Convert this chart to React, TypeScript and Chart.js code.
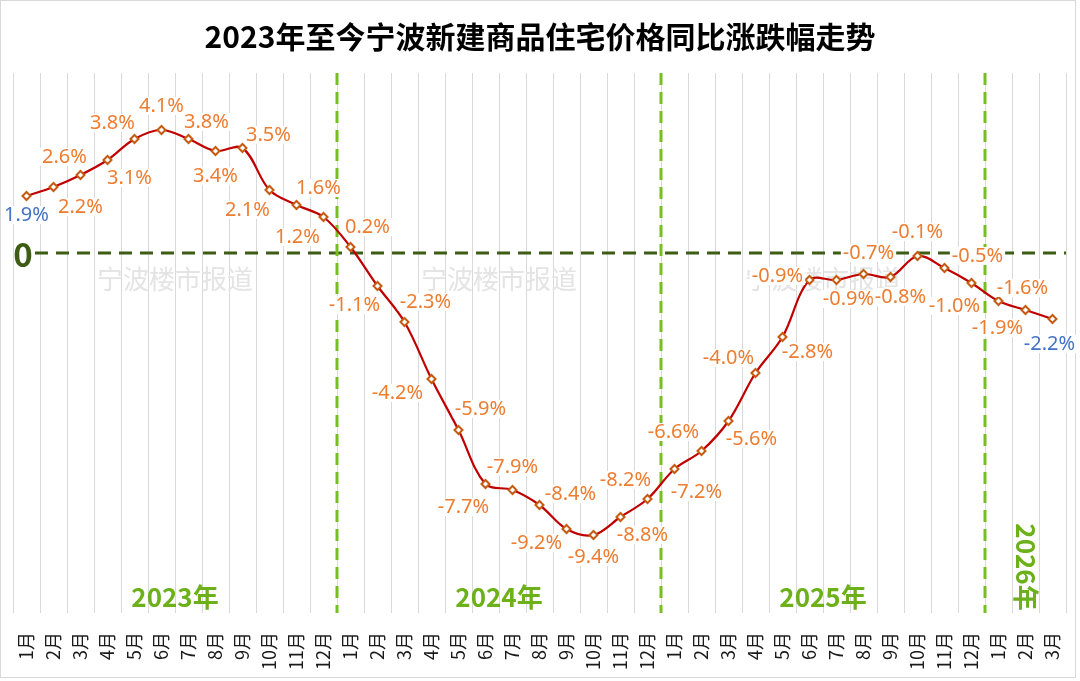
import { useEffect, useRef } from 'react';
import { Chart, registerables } from 'chart.js';

Chart.register(...registerables);

// ---------- data ----------
const MONTHS = ['1月', '2月', '3月', '4月', '5月', '6月', '7月', '8月', '9月', '10月', '11月', '12月'];
const CATEGORIES = [...MONTHS, ...MONTHS, ...MONTHS, ...MONTHS.slice(0, 3)];
const VALUES_2023 = [1.9, 2.2, 2.6, 3.1, 3.8, 4.1, 3.8, 3.4, 3.5, 2.1, 1.6, 1.2];
const VALUES_2024 = [0.2, -1.1, -2.3, -4.2, -5.9, -7.7, -7.9, -8.4, -9.2, -9.4, -8.8, -8.2];
const VALUES_2025 = [-7.2, -6.6, -5.6, -4.0, -2.8, -0.9, -0.9, -0.7, -0.8, -0.1, -0.5, -1.0];
const VALUES_2026 = [-1.6, -1.9, -2.2];
const VALUES = [...VALUES_2023, ...VALUES_2024, ...VALUES_2025, ...VALUES_2026];
const YEAR_LABELS = ['2023年', '2024年', '2025年', '2026年'];
const YEAR_STARTS = [0, 12, 24, 36];
const TITLE = '2023年至今宁波新建商品住宅价格同比涨跌幅走势';
const WATERMARK = '宁波楼市报道';
const Y_MIN = -12;
const Y_MAX = 6;

// ---------- label placement (style, pixel offsets from each point) ----------
const LABEL_OFFSETS: [number, number][] = [
  [0, 19], [27, 20], [-16, -18], [22, 18], [-22, -16], [0, -24], [18, -17], [0, 25], [26, -13], [-22, 20], [22, -17], [-26, 20],
  [17, -20], [-23, 19], [21, -20], [-34, 14], [22, -21], [-22, 23], [0, -23], [31, -11], [-30, 14], [0, 22], [22, 18], [-22, -19],
  [22, 23], [-28, -19], [23, 18], [-27, -15], [25, 15], [-32, -4], [12, 19], [5, -21], [10, 20], [0, -24], [33, -12], [-17, 23],
  [24, -13], [-28, 18], [-3, 25],
];

const CJK = '"Noto Sans CJK SC", "Noto Sans", sans-serif';

const decorPlugin = {
  id: 'decor',
  beforeDraw(chart: any) {
    const { ctx, width } = chart;
    ctx.save();
    ctx.fillStyle = '#ffffff';
    ctx.fillRect(0, 0, chart.width, chart.height);
    ctx.strokeStyle = '#d9d9d9';
    ctx.lineWidth = 1;
    ctx.strokeRect(0.5, 0.5, 1075, 677);
    ctx.fillStyle = '#000000';
    ctx.font = `bold 30px ${CJK}`;
    ctx.textAlign = 'center';
    ctx.textBaseline = 'middle';
    ctx.fillText(TITLE, width / 2, 37);
    ctx.restore();
  },
  beforeDatasetsDraw(chart: any) {
    const { ctx, chartArea } = chart;
    const x = chart.scales.x;
    const y = chart.scales.y;
    const cat = (chartArea.right - chartArea.left) / CATEGORIES.length;
    ctx.save();
    // watermarks
    ctx.fillStyle = '#e4e4e4';
    ctx.font = `26px ${CJK}`;
    ctx.textAlign = 'center';
    ctx.textBaseline = 'middle';
    for (let k = 0; k < 3; k++) {
      const cx = (x.getPixelForValue(YEAR_STARTS[k] + 5) + x.getPixelForValue(YEAR_STARTS[k] + 6)) / 2;
      ctx.fillText(WATERMARK, cx, y.getPixelForValue(0) + 26);
    }
    // zero line
    const y0 = y.getPixelForValue(0);
    ctx.strokeStyle = '#3d5c14';
    ctx.lineWidth = 3;
    ctx.setLineDash([13, 8]);
    ctx.beginPath();
    ctx.moveTo(chartArea.left + 22, y0);
    ctx.lineTo(chartArea.right, y0);
    ctx.stroke();
    // year separators
    ctx.strokeStyle = '#78be20';
    ctx.setLineDash([12, 7]);
    for (let k = 1; k < YEAR_STARTS.length; k++) {
      const bx = chartArea.left + YEAR_STARTS[k] * cat;
      ctx.beginPath();
      ctx.moveTo(bx, chartArea.top);
      ctx.lineTo(bx, chartArea.bottom);
      ctx.stroke();
    }
    ctx.setLineDash([]);
    // "0" label
    ctx.fillStyle = '#3d5c14';
    ctx.font = `bold 33px ${CJK}`;
    ctx.fillText('0', chartArea.left + 10, y0 + 1);
    // year labels
    ctx.fillStyle = '#6cb01a';
    ctx.font = `bold 26px ${CJK}`;
    for (let k = 0; k < 3; k++) {
      const cx = (x.getPixelForValue(YEAR_STARTS[k] + 5) + x.getPixelForValue(YEAR_STARTS[k] + 6)) / 2;
      ctx.fillText(YEAR_LABELS[k], cx, chartArea.bottom - 16);
    }
    ctx.save();
    ctx.translate(x.getPixelForValue(YEAR_STARTS[3] + 1), chartArea.bottom - 46);
    ctx.rotate(Math.PI / 2);
    ctx.fillText(YEAR_LABELS[3], 0, 0);
    ctx.restore();
    ctx.restore();
  },
  afterDatasetsDraw(chart: any) {
    const { ctx } = chart;
    const meta = chart.getDatasetMeta(0);
    ctx.save();
    ctx.font = `20px "Noto Sans", ${CJK}`;
    ctx.textAlign = 'center';
    ctx.textBaseline = 'middle';
    meta.data.forEach((pt: any, i: number) => {
      const [dx, dy] = LABEL_OFFSETS[i];
      const text = `${VALUES[i].toFixed(1)}%`;
      const lx = pt.x + dx;
      const ly = pt.y + dy;
      const w = ctx.measureText(text).width;
      ctx.fillStyle = '#ffffff';
      ctx.fillRect(lx - w / 2 - 2, ly - 9, w + 4, 18);
      ctx.fillStyle = i === 0 || i === VALUES.length - 1 ? '#4472c4' : '#ed7d31';
      ctx.fillText(text, lx, ly);
    });
    ctx.restore();
  },
};

export default function App() {
  const ref = useRef<HTMLCanvasElement>(null);
  useEffect(() => {
    const chart = new Chart(ref.current!, {
      type: 'line',
      data: {
        labels: CATEGORIES,
        datasets: [
          {
            data: VALUES,
            borderColor: '#c00000',
            borderWidth: 2.2,
            tension: 0.35,
            pointStyle: 'rectRot',
            pointRadius: 4,
            pointBorderWidth: 2,
            pointBorderColor: '#c55a11',
            pointBackgroundColor: '#ffffff',
            clip: false as any,
          },
        ],
      },
      options: {
        animation: false,
        responsive: false,
        devicePixelRatio: 1,
        layout: { padding: { left: 13, right: 14, top: 73, bottom: 0 } },
        plugins: { legend: { display: false }, tooltip: { enabled: false }, title: { display: false } },
        scales: {
          x: {
            offset: true,
            grid: { offset: true, color: '#d9d9d9', lineWidth: 1, drawTicks: false },
            border: { display: false },
            ticks: {
              autoSkip: false,
              minRotation: 90,
              maxRotation: 90,
              padding: 19,
              color: '#1a1a1a',
              font: { family: CJK, size: 18 },
            },
            afterFit: (s: any) => {
              s.height = 68;
              s.paddingLeft = 0;
              s.paddingRight = 0;
            },
          },
          y: { display: false, min: Y_MIN, max: Y_MAX },
        },
      },
      plugins: [decorPlugin],
    });
    return () => chart.destroy();
  }, []);
  return (
    <div style={{ position: 'fixed', left: 0, top: 0, width: 1080, height: 681, background: '#fff' }}>
      <canvas ref={ref} width={1080} height={681} style={{ display: 'block', width: 1080, height: 681 }} />
    </div>
  );
}
